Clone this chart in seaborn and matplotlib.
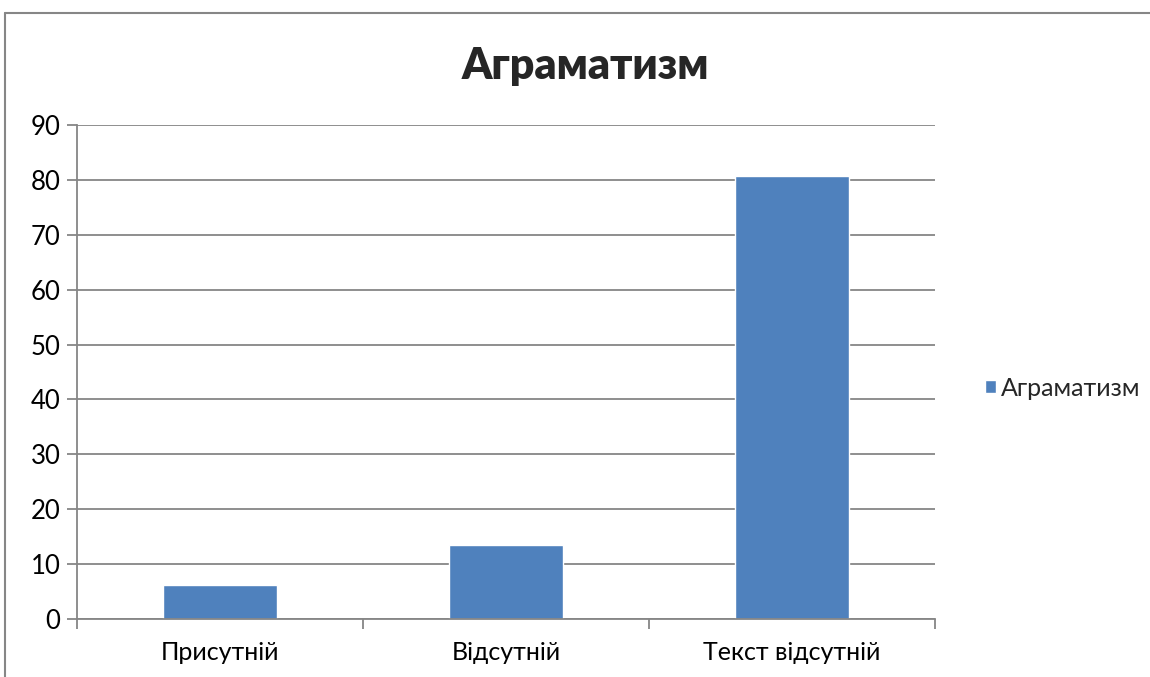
import matplotlib
matplotlib.use("Agg")
import matplotlib.pyplot as plt
from matplotlib.lines import Line2D
import seaborn as sns
import pandas as pd

# Chart data
categories = ["Присутній", "Відсутній", "Текст відсутній"]
values = [6.2, 13.5, 80.7]
series_name = "Аграматизм"
y_ticks = [0, 10, 20, 30, 40, 50, 60, 70, 80, 90]

BAR_COLOR = "#4F81BD"
GRID_COLOR = "#868686"
FONT = ["Lato", "DejaVu Sans"]

sns.set_theme(style="white")
plt.rcParams["font.family"] = FONT

df = pd.DataFrame({"category": categories, "value": values, "series": series_name})

fig = plt.figure(figsize=(11.5, 6.77), dpi=100)
ax = fig.add_axes([77 / 1150, 1 - 619 / 677, (935 - 77) / 1150, (619 - 125) / 677])

sns.barplot(data=df, x="category", y="value", hue="series", palette=[BAR_COLOR],
            width=0.4, ax=ax, saturation=1, legend=True)

ax.set_ylim(0, 90)
ax.set_xlim(-0.5, 2.5)
ax.set_yticks(y_ticks)
ax.set_xlabel("")
ax.set_ylabel("")

# Gridlines behind bars
ax.set_axisbelow(True)
ax.yaxis.grid(True, color=GRID_COLOR, linewidth=1.3)
ax.xaxis.grid(False)

for side in ["top", "right"]:
    ax.spines[side].set_visible(False)
for side in ["left", "bottom"]:
    ax.spines[side].set_color(GRID_COLOR)
    ax.spines[side].set_linewidth(1.3)

ax.tick_params(axis="y", which="major", left=True, length=7, width=1.3, color=GRID_COLOR,
               labelsize=18.5, labelcolor="black", pad=5)
# Category boundary tick marks on x axis
ax.set_xticks([-0.5, 0.5, 1.5, 2.5], minor=True)
ax.tick_params(axis="x", which="minor", bottom=True, length=7, width=1.3, color=GRID_COLOR)
ax.tick_params(axis="x", which="major", bottom=False, length=0, labelsize=18,
               labelcolor="black", pad=16)

fig.suptitle(series_name, x=585 / 1150, y=1 - 66 / 677, va="center",
             fontsize=31, fontweight="heavy", family=FONT)

leg = ax.legend(loc="center left", bbox_to_anchor=(985 / 1150, 1 - 388 / 677),
                bbox_transform=fig.transFigure, frameon=False, fontsize=18,
                handlelength=0.45, handleheight=0.45, handletextpad=0.2,
                borderpad=0, borderaxespad=0)

# Outer chart frame (left and top edges)
fig.add_artist(Line2D([5 / 1150, 5 / 1150], [0, 1 - 13 / 677], transform=fig.transFigure,
                      color=GRID_COLOR, linewidth=1.5))
fig.add_artist(Line2D([5 / 1150, 1], [1 - 13 / 677, 1 - 13 / 677], transform=fig.transFigure,
                      color=GRID_COLOR, linewidth=1.5))

fig.savefig("out.png", dpi=100, facecolor="white")
